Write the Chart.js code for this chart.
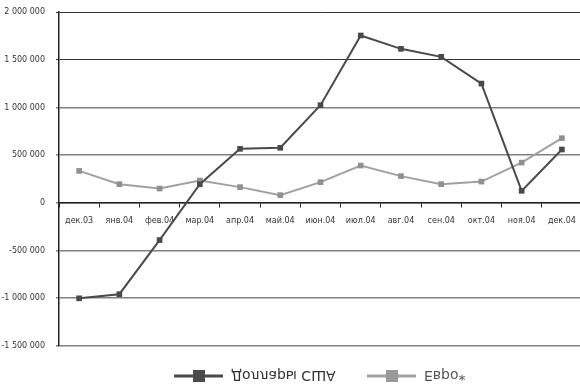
<!DOCTYPE html>
<html>
<head>
<meta charset="utf-8">
<script src="https://cdn.jsdelivr.net/npm/chart.js@4/dist/chart.umd.min.js"></script>
<style>
  html, body { margin: 0; padding: 0; background: #fff; overflow: hidden; }
  #wrap { width: 586px; height: 388px; }
</style>
</head>
<body>
<div id="wrap"><canvas id="c" width="586" height="388"></canvas></div>
<script>
const months = ['дек.03', 'янв.04', 'фев.04', 'мар.04', 'апр.04', 'май.04', 'июн.04',
                'июл.04', 'авг.04', 'сен.04', 'окт.04', 'ноя.04', 'дек.04'];
const usd = [-1000000, -957000, -390000, 195000, 566000, 577000, 1024000,
             1754000, 1614000, 1530000, 1250000, 126000, 559000];
const eur = [335000, 196000, 150000, 234000, 165000, 81000, 217000,
             391000, 280000, 196000, 223000, 422000, 678000];
const seriesNames = ['Доллары США', 'Евро*'];

const font = "'DejaVu Sans', sans-serif";

function fmt(v) {
    const s = Math.abs(v).toString().replace(/\B(?=(\d{3})+(?!\d))/g, ' ');
    return (v < 0 ? '-' : '') + s;
}

// легенда в оригинале перевёрнута по вертикали
const flippedLegend = {
    id: 'flippedLegend',
    afterDraw(chart) {
        const ctx = chart.ctx;
        const y = 376;
        const items = [
            { x: 174, name: seriesNames[0], line: '#4a4a4a', box: '#4a4a4a', text: '#333' },
            { x: 367, name: seriesNames[1], line: '#a0a0a0', box: '#999', text: '#555' }
        ];
        items.forEach(it => {
            ctx.save();
            ctx.strokeStyle = it.line;
            ctx.lineWidth = 3;
            ctx.beginPath();
            ctx.moveTo(it.x, y);
            ctx.lineTo(it.x + 49, y);
            ctx.stroke();
            ctx.fillStyle = it.box;
            ctx.fillRect(it.x + 19, y - 6, 12, 12);
            ctx.translate(it.x + 57, y);
            ctx.scale(1, -1);
            ctx.fillStyle = it.text;
            ctx.font = "14px " + font;
            ctx.textBaseline = 'middle';
            ctx.fillText(it.name, 0, 1);
            ctx.restore();
        });
    }
};

new Chart(document.getElementById('c').getContext('2d'), {
    type: 'line',
    data: {
        labels: months,
        datasets: [
            {
                label: seriesNames[0],
                data: usd,
                borderColor: '#4a4a4a',
                backgroundColor: '#4a4a4a',
                borderWidth: 2,
                pointStyle: 'rect',
                pointRadius: 4,
                pointBorderWidth: 0,
                tension: 0
            },
            {
                label: seriesNames[1],
                data: eur,
                borderColor: '#a0a0a0',
                backgroundColor: '#909090',
                borderWidth: 2,
                pointStyle: 'rect',
                pointRadius: 4,
                pointBorderWidth: 0,
                tension: 0
            }
        ]
    },
    options: {
        responsive: false,
        animation: false,
        layout: { padding: { top: 12, bottom: 42, right: 1 } },
        scales: {
            x: {
                position: { y: 0 },
                offset: true,
                grid: {
                    offset: true,
                    drawOnChartArea: false,
                    drawTicks: true,
                    tickLength: 4,
                    color: '#222'
                },
                border: { display: true, color: '#222', width: 1.5 },
                ticks: {
                    color: '#333',
                    font: { family: font, size: 8 },
                    maxRotation: 0,
                    autoSkip: false,
                    padding: 9
                }
            },
            y: {
                min: -1500000,
                max: 2000000,
                afterFit: s => {
                    s.width = 59;
                    s.paddingTop = 0;
                    s.paddingBottom = 0;
                },
                ticks: {
                    stepSize: 500000,
                    color: '#333',
                    font: { family: font, size: 8 },
                    padding: 11,
                    callback: v => fmt(v)
                },
                grid: {
                    tickLength: 3,
                    color: ctx => ctx.tick && ctx.tick.value >= 1500000 ? '#333' : '#808080',
                    lineWidth: ctx => ctx.tick && ctx.tick.value >= 1500000 ? 1 : 1.6
                },
                border: { display: true, color: '#222', width: 1.5 }
            }
        },
        plugins: {
            legend: { display: false },
            tooltip: { enabled: false }
        }
    },
    plugins: [flippedLegend]
});
</script>
</body>
</html>
